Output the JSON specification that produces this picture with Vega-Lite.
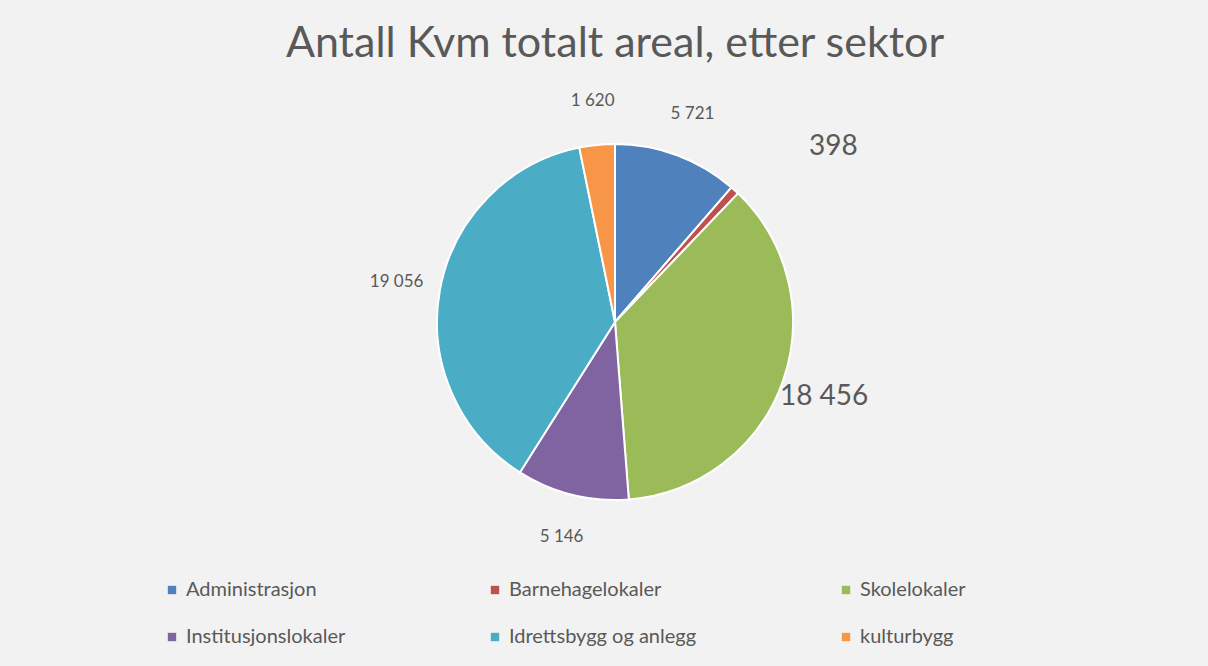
{
  "$schema": "https://vega.github.io/schema/vega-lite/v6.json",
  "width": 1186,
  "height": 504,
  "autosize": {"type": "none"},
  "padding": {"left": 22, "top": 70, "right": 0, "bottom": 92},
  "background": "#f2f2f2",
  "title": {"text": "Antall Kvm totalt areal, etter sektor", "fontSize": 43, "font": "Lato", "fontWeight": "normal", "color": "#595959", "baseline": "alphabetic", "offset": 10, "dy": 40},
  "config": {
    "view": {"stroke": null},
    "locale": {"number": {"decimal": ",", "thousands": " ", "grouping": [3], "currency": ["", ""]}}
  },
  "data": {"values": [
    {"nr": 1, "sektor": "Administrasjon", "kvm": 5721},
    {"nr": 2, "sektor": "Barnehagelokaler", "kvm": 398},
    {"nr": 3, "sektor": "Skolelokaler", "kvm": 18456},
    {"nr": 4, "sektor": "Institusjonslokaler", "kvm": 5146},
    {"nr": 5, "sektor": "Idrettsbygg og anlegg", "kvm": 19056},
    {"nr": 6, "sektor": "kulturbygg", "kvm": 1620}
  ]},
  "layer": [
    {
      "mark": {"type": "arc", "outerRadius": 178, "stroke": "white", "strokeWidth": 2},
      "encoding": {
        "theta": {"field": "kvm", "type": "quantitative", "stack": true},
        "order": {"field": "nr", "type": "quantitative"},
        "color": {
          "field": "sektor", "type": "nominal",
          "scale": {
            "domain": ["Administrasjon", "Barnehagelokaler", "Skolelokaler", "Institusjonslokaler", "Idrettsbygg og anlegg", "kulturbygg"],
            "range": ["#4f81bd", "#c0504d", "#9bbb59", "#8064a2", "#4bacc6", "#f79646"]
          },
          "legend": {
            "orient": "none", "legendX": 140, "legendY": 510,
            "direction": "horizontal", "columns": 3, "title": null,
            "symbolType": "square", "symbolSize": 70, "symbolStrokeWidth": 0,
            "labelFont": "Lato", "labelFontSize": 20, "labelColor": "#595959",
            "rowPadding": 27, "columnPadding": 139, "labelLimit": 400
          }
        }
      }
    },
    {
      "mark": {
        "type": "text", "radius": 222, "font": "Lato", "color": "#595959",
        "radiusOffset": {"expr": "datum.sektor === 'Barnehagelokaler' ? 58 : 0"},
        "thetaOffset": {"expr": "datum.sektor === 'Barnehagelokaler' ? 0.157 : 0"}
      },
      "encoding": {
        "theta": {"field": "kvm", "type": "quantitative", "stack": true},
        "order": {"field": "nr", "type": "quantitative"},
        "text": {"field": "kvm", "type": "quantitative", "format": ",d"},
        "size": {"condition": {"test": "datum.sektor === 'Skolelokaler' || datum.sektor === 'Barnehagelokaler'", "value": 28}, "value": 17}
      }
    }
  ]
}
